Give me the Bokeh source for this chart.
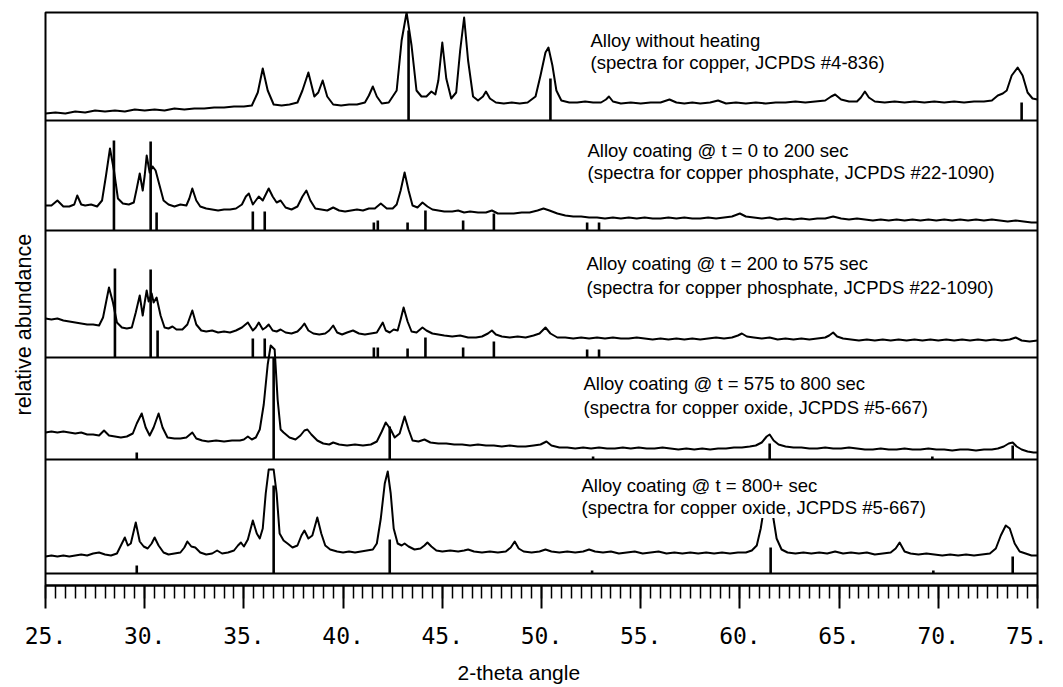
import numpy as np
from bokeh.plotting import figure
from bokeh.models import Range1d, FixedTicker, Label, Title
from bokeh.embed import file_html
from bokeh.resources import INLINE

# ---------------- data (2-theta in degrees, intensity in arbitrary units) ----------------
panel_titles = [
    "Alloy without heating",
    "Alloy coating @ t = 0 to 200 sec",
    "Alloy coating @ t = 200 to 575 sec",
    "Alloy coating @ t = 575 to 800 sec",
    "Alloy coating @ t = 800+ sec",
]
panel_refs = [
    "(spectra for copper, JCPDS #4-836)",
    "(spectra for copper phosphate, JCPDS #22-1090)",
    "(spectra for copper phosphate, JCPDS #22-1090)",
    "(spectra for copper oxide, JCPDS #5-667)",
    "(spectra for copper oxide, JCPDS #5-667)",
]

tick_values = [25, 30, 35, 40, 45, 50, 55, 60, 65, 70, 75]
tick_labels = ["25.", "30.", "35.", "40.", "45.", "50.", "55.", "60.", "65.", "70.", "75."]

x1 = [25.0, 25.5, 26.0, 26.5, 27.0, 27.5, 28.0, 28.5, 29.0, 29.5, 30.0, 30.5, 31.0, 31.5, 32.0, 32.5, 33.0, 33.5,
      34.0, 34.5, 35.0, 35.4, 35.7, 35.95, 36.2, 36.5, 36.9, 37.3, 37.7, 37.95, 38.25, 38.55, 38.75, 38.97, 39.2,
      39.5, 39.9, 40.3, 40.7, 41.1, 41.3, 41.5, 41.7, 41.95, 42.3, 42.7, 42.95, 43.2, 43.45, 43.7, 43.95, 44.2,
      44.45, 44.65, 44.8, 45.0, 45.2, 45.45, 45.7, 45.9, 46.1, 46.3, 46.55, 46.8, 47.05, 47.2, 47.4, 47.7, 48.1,
      48.5, 48.9, 49.3, 49.7, 49.95, 50.2, 50.35, 50.55, 50.75, 51.0, 51.4, 51.8, 52.2, 52.6, 53.0, 53.25, 53.4,
      53.6, 54.0, 54.5, 55.0, 55.5, 56.0, 56.45, 56.8, 57.2, 57.6, 58.0, 58.5, 58.9, 59.3, 59.8, 60.3, 60.8, 61.3,
      61.8, 62.3, 62.8, 63.3, 63.8, 64.3, 64.6, 64.8, 65.1, 65.5, 65.9, 66.1, 66.3, 66.5, 66.8, 67.3, 67.8, 68.3,
      68.8, 69.3, 69.8, 70.3, 70.8, 71.3, 71.8, 72.3, 72.7, 73.0, 73.25, 73.45, 73.7, 74.0, 74.25, 74.5, 74.75, 75.0]
y1 = [7, 8, 7, 9, 8, 10, 9, 10, 9, 11, 10, 11, 10, 12, 11, 12, 12, 13,
      13, 14, 14, 15, 28, 52, 30, 16, 15, 16, 18, 30, 48, 24, 28, 40, 24,
      16, 15, 16, 16, 18, 25, 34, 24, 17, 18, 30, 80, 125, 75, 30, 24, 24,
      29, 26, 40, 78, 42, 22, 28, 70, 103, 60, 24, 20, 24, 29, 22, 18, 17,
      18, 17, 18, 24, 45, 68, 73, 55, 30, 20, 18, 18, 19, 18, 18, 21, 24,
      19, 17, 18, 17, 18, 18, 21, 18, 17, 18, 17, 18, 20, 17, 18, 17, 18, 17,
      18, 18, 19, 18, 19, 20, 24, 26, 21, 19, 19, 23, 29, 23, 19, 18, 19, 18,
      19, 18, 19, 18, 19, 18, 19, 19, 20, 25, 27, 30, 45, 53, 45, 28, 22, 21]

x2 = [25.0, 25.3, 25.6, 25.9, 26.2, 26.45, 26.6, 26.8, 27.0, 27.3, 27.6, 27.85, 28.05, 28.25, 28.45, 28.65, 28.9,
      29.2, 29.45, 29.6, 29.75, 29.9, 30.0, 30.1, 30.25, 30.4, 30.55, 30.75, 30.95, 31.2, 31.5, 31.8, 32.1, 32.25,
      32.4, 32.6, 32.8, 33.1, 33.4, 33.7, 34.0, 34.3, 34.6, 34.9, 35.1, 35.25, 35.45, 35.6, 35.75, 35.95, 36.1,
      36.25, 36.45, 36.65, 36.85, 37.1, 37.4, 37.7, 37.95, 38.15, 38.35, 38.6, 38.9, 39.2, 39.5, 39.8, 40.1, 40.4,
      40.7, 41.0, 41.3, 41.6, 41.9, 42.2, 42.5, 42.7, 42.9, 43.1, 43.3, 43.5, 43.75, 44.0, 44.25, 44.5, 44.8, 45.1,
      45.5, 45.8, 46.1, 46.4, 46.8, 47.2, 47.5, 47.8, 48.2, 48.6, 49.0, 49.4, 49.8, 50.1, 50.4, 50.8, 51.2, 51.6,
      52.0, 52.4, 52.8, 53.2, 53.6, 54.0, 54.4, 54.8, 55.2, 55.6, 56.0, 56.4, 56.8, 57.2, 57.6, 58.0, 58.4, 58.8,
      59.2, 59.6, 60.0, 60.3, 60.7, 61.1, 61.5, 61.9, 62.3, 62.7, 63.1, 63.5, 63.9, 64.3, 64.7, 65.1, 65.5, 65.9,
      66.3, 66.7, 67.1, 67.5, 67.9, 68.3, 68.7, 69.1, 69.5, 69.9, 70.3, 70.7, 71.1, 71.5, 71.9, 72.3, 72.7, 73.1,
      73.5, 73.9, 74.3, 74.7, 75.0]
y2 = [25, 25, 30, 24, 24, 26, 35, 26, 25, 26, 24, 30, 55, 82, 60, 32, 27,
      26, 28, 42, 57, 40, 55, 75, 58, 64, 60, 45, 30, 26, 24, 26, 25, 32,
      42, 30, 24, 22, 21, 20, 21, 21, 22, 26, 34, 37, 26, 30, 34, 30, 36,
      42, 34, 28, 30, 23, 21, 24, 34, 40, 30, 22, 21, 20, 23, 20, 19, 20,
      21, 20, 22, 22, 27, 22, 22, 26, 40, 58, 40, 25, 23, 28, 24, 21, 20, 19,
      19, 20, 18, 19, 18, 18, 20, 17, 17, 17, 18, 18, 20, 22, 20, 17, 15, 14,
      14, 13, 13, 12, 13, 12, 13, 12, 13, 12, 12, 13, 12, 13, 12, 12, 13, 12,
      13, 14, 17, 14, 13, 12, 13, 11, 12, 11, 12, 11, 12, 12, 14, 12, 11, 12,
      11, 10, 11, 10, 11, 10, 11, 10, 11, 10, 11, 10, 11, 10, 11, 10, 11, 10,
      9, 10, 9, 8, 8]

x3 = [25.0, 25.3, 25.6, 25.9, 26.2, 26.5, 26.8, 27.1, 27.4, 27.7, 27.9, 28.05, 28.2, 28.4, 28.6, 28.85, 29.1, 29.35,
      29.55, 29.75, 29.9, 30.0, 30.1, 30.2, 30.35, 30.45, 30.6, 30.8, 31.0, 31.2, 31.4, 31.6, 31.9, 32.15, 32.4,
      32.6, 32.85, 33.1, 33.4, 33.7, 34.0, 34.3, 34.6, 34.9, 35.2, 35.45, 35.6, 35.75, 35.95, 36.1, 36.25, 36.45,
      36.65, 36.85, 37.1, 37.4, 37.7, 37.9, 38.05, 38.25, 38.5, 38.8, 39.1, 39.3, 39.5, 39.7, 39.95, 40.2, 40.5,
      40.8, 41.1, 41.4, 41.7, 41.85, 42.0, 42.15, 42.35, 42.55, 42.75, 42.9, 43.05, 43.25, 43.45, 43.7, 44.0, 44.2,
      44.5, 44.8, 45.1, 45.5, 45.9, 46.3, 46.7, 47.0, 47.3, 47.5, 47.7, 48.0, 48.4, 48.8, 49.2, 49.6, 49.9, 50.2,
      50.45, 50.8, 51.2, 51.6, 52.0, 52.4, 52.8, 53.2, 53.6, 54.0, 54.4, 54.8, 55.2, 55.6, 56.0, 56.4, 56.8, 57.2,
      57.6, 58.0, 58.4, 58.8, 59.2, 59.6, 59.9, 60.1, 60.35, 60.7, 61.1, 61.5, 61.9, 62.3, 62.7, 63.1, 63.5, 63.9,
      64.3, 64.5, 64.7, 64.9, 65.2, 65.6, 66.0, 66.4, 66.8, 67.2, 67.6, 68.0, 68.4, 68.8, 69.2, 69.6, 70.0, 70.4,
      70.8, 71.2, 71.6, 72.0, 72.4, 72.8, 73.2, 73.6, 73.9, 74.2, 74.6, 75.0]
y3 = [39, 38, 39, 37, 36, 35, 34, 33, 33, 32, 40, 55, 70, 55, 35, 30, 29, 30,
      45, 62, 42, 55, 67, 56, 64, 55, 60, 42, 30, 29, 31, 28, 28, 33, 47,
      33, 27, 26, 27, 25, 26, 25, 27, 30, 35, 27, 30, 35, 28, 30, 33, 27,
      26, 28, 25, 24, 26, 30, 34, 27, 24, 23, 24, 27, 32, 25, 23, 25, 27,
      24, 23, 24, 25, 30, 35, 27, 25, 28, 27, 38, 50, 36, 26, 25, 30, 27,
      24, 23, 22, 21, 22, 20, 20, 21, 24, 27, 23, 21, 20, 21, 20, 22, 24, 30,
      24, 20, 20, 19, 20, 19, 20, 19, 20, 19, 19, 20, 19, 18, 19, 18, 19, 18,
      19, 18, 19, 20, 19, 20, 22, 24, 21, 20, 19, 20, 18, 19, 18, 19, 18, 19,
      20, 22, 25, 21, 19, 18, 17, 18, 17, 18, 17, 18, 17, 18, 17, 18, 17, 18,
      17, 18, 17, 18, 17, 18, 17, 18, 20, 17, 16, 17]

x4 = [25.0, 25.3, 25.6, 25.9, 26.2, 26.5, 26.8, 27.1, 27.4, 27.7, 27.95, 28.2, 28.5, 28.8, 29.1, 29.4, 29.6, 29.85,
      30.05, 30.25, 30.45, 30.7, 30.9, 31.15, 31.5, 31.8, 32.1, 32.4, 32.6, 32.9, 33.2, 33.6, 34.0, 34.4, 34.8,
      35.0, 35.2, 35.4, 35.6, 35.8, 36.0, 36.2, 36.35, 36.55, 36.7, 36.85, 37.0, 37.3, 37.6, 37.85, 38.05, 38.2,
      38.4, 38.7, 39.0, 39.3, 39.5, 39.8, 40.2, 40.6, 41.0, 41.4, 41.7, 41.95, 42.15, 42.4, 42.6, 42.85, 43.1,
      43.3, 43.5, 43.8, 44.1, 44.4, 44.8, 45.2, 45.6, 46.0, 46.4, 46.8, 47.2, 47.6, 48.0, 48.4, 48.8, 49.2, 49.6,
      49.95, 50.25, 50.5, 50.9, 51.3, 51.7, 52.1, 52.5, 52.9, 53.3, 53.7, 54.1, 54.5, 54.9, 55.3, 55.7, 56.1,
      56.5, 56.9, 57.3, 57.7, 58.1, 58.5, 58.9, 59.3, 59.7, 60.1, 60.5, 60.8, 61.1, 61.35, 61.5, 61.7, 61.95,
      62.3, 62.7, 63.1, 63.5, 63.9, 64.3, 64.7, 65.1, 65.5, 65.9, 66.3, 66.7, 67.1, 67.5, 67.9, 68.3, 68.7,
      69.1, 69.5, 69.9, 70.3, 70.7, 71.1, 71.5, 71.9, 72.3, 72.7, 73.0, 73.3, 73.55, 73.75, 73.95, 74.2, 74.5,
      74.8, 75.0]
y4 = [27, 28, 27, 28, 27, 26, 27, 25, 25, 24, 29, 24, 23, 22, 23, 26, 36, 46,
      32, 24, 32, 46, 32, 22, 21, 21, 22, 27, 21, 19, 18, 19, 18, 19, 19,
      20, 23, 20, 22, 30, 55, 95, 120, 110, 60, 30, 27, 22, 20, 24, 29, 30,
      25, 19, 16, 15, 17, 15, 14, 15, 14, 15, 18, 28, 37, 30, 22, 26, 43,
      30, 19, 18, 20, 17, 16, 16, 15, 15, 14, 15, 14, 14, 13, 14, 13, 13, 14,
      15, 18, 14, 12, 12, 11, 12, 11, 12, 11, 11, 12, 11, 12, 11, 11, 12,
      11, 10, 11, 10, 11, 10, 11, 11, 12, 12, 13, 14, 17, 23, 25, 19, 15,
      13, 12, 12, 11, 11, 12, 11, 11, 12, 11, 10, 10, 11, 10, 10, 11, 10,
      10, 11, 10, 10, 9, 10, 10, 9, 10, 10, 11, 13, 16, 17, 13, 10, 8,
      7, 7]

x5 = [25.0, 25.3, 25.6, 25.9, 26.2, 26.5, 26.8, 27.1, 27.4, 27.7, 28.0, 28.3, 28.6, 28.8, 29.0, 29.15, 29.3, 29.55,
      29.75, 29.95, 30.15, 30.35, 30.5, 30.7, 30.95, 31.2, 31.5, 31.8, 32.0, 32.15, 32.35, 32.55, 32.8, 33.1, 33.4,
      33.65, 33.9, 34.2, 34.5, 34.7, 34.85, 35.0, 35.2, 35.45, 35.65, 35.8, 35.95, 36.1, 36.25, 36.5, 36.65, 36.8,
      37.0, 37.2, 37.45, 37.7, 37.9, 38.05, 38.25, 38.45, 38.7, 38.9, 39.1, 39.35, 39.7, 40.0, 40.3, 40.6, 40.9,
      41.2, 41.5, 41.7, 41.9, 42.1, 42.25, 42.4, 42.55, 42.75, 42.95, 43.1, 43.3, 43.6, 43.9, 44.1, 44.25, 44.45,
      44.7, 45.0, 45.4, 45.8, 46.1, 46.3, 46.6, 47.0, 47.4, 47.8, 48.2, 48.45, 48.65, 48.85, 49.1, 49.5, 49.9,
      50.2, 50.5, 50.9, 51.3, 51.7, 52.1, 52.4, 52.7, 53.1, 53.5, 53.9, 54.3, 54.7, 55.1, 55.5, 55.9, 56.3, 56.7,
      57.1, 57.5, 57.9, 58.3, 58.7, 59.1, 59.5, 59.9, 60.3, 60.6, 60.85, 61.05, 61.25, 61.45, 61.65, 61.85, 62.1,
      62.4, 62.8, 63.2, 63.6, 64.0, 64.4, 64.8, 65.2, 65.6, 66.0, 66.4, 66.8, 67.2, 67.6, 67.85, 68.05, 68.3,
      68.6, 69.0, 69.4, 69.8, 70.2, 70.6, 71.0, 71.4, 71.8, 72.2, 72.6, 72.9, 73.15, 73.4, 73.6, 73.85, 74.1,
      74.4, 74.7, 75.0]
y5 = [17, 18, 17, 18, 17, 18, 19, 18, 20, 21, 19, 18, 20, 28, 36, 28, 30, 51,
      32, 27, 25, 30, 36, 28, 21, 19, 20, 21, 26, 32, 27, 26, 21, 19, 20,
      23, 20, 21, 23, 28, 31, 27, 34, 53, 40, 35, 45, 80, 130, 130, 80, 40,
      33, 30, 26, 28, 38, 43, 35, 38, 56, 40, 28, 24, 22, 21, 22, 21, 22,
      23, 24, 30, 55, 90, 102, 80, 45, 30, 28, 30, 27, 24, 25, 28, 31, 27,
      23, 22, 23, 22, 23, 24, 22, 21, 22, 21, 22, 26, 32, 25, 22, 21, 22,
      24, 22, 21, 22, 21, 22, 24, 22, 21, 22, 20, 21, 22, 20, 21, 22, 20, 21,
      20, 21, 20, 21, 20, 21, 20, 21, 21, 23, 28, 45, 70, 72, 60, 35, 24,
      21, 20, 21, 20, 21, 20, 22, 20, 21, 20, 21, 19, 20, 21, 25, 31, 22,
      20, 19, 20, 19, 18, 19, 18, 19, 18, 19, 20, 25, 38, 48, 45, 30, 22,
      20, 18, 18]

spectra_x = [x1, x2, x3, x4, x5]
spectra_y = [y1, y2, y3, y4, y5]

# JCPDS reference lines (position, relative height)
ref_x1 = [43.3, 50.45, 74.2]
ref_h1 = [90, 42, 18]
ref_x2 = [28.45, 30.3, 30.6, 35.45, 36.05, 41.55, 41.75, 43.25, 44.15, 46.05, 47.6, 52.3, 52.9]
ref_h2 = [90, 89, 18, 19, 19, 8, 10, 8, 20, 10, 17, 8, 8]
ref_x3 = [28.5, 30.3, 30.65, 35.45, 36.05, 41.55, 41.75, 43.25, 44.15, 46.05, 47.6, 52.3, 52.9]
ref_h3 = [89, 88, 27, 19, 19, 10, 10, 9, 20, 10, 16, 8, 8]
ref_x4 = [29.6, 36.5, 42.35, 52.6, 61.5, 69.7, 73.75]
ref_h4 = [7, 102, 33, 3, 16, 3, 14]
ref_x5 = [29.6, 36.5, 42.35, 52.55, 61.55, 69.75, 73.75]
ref_h5 = [8, 88, 34, 3, 26, 3, 17]

ref_x = [ref_x1, ref_x2, ref_x3, ref_x4, ref_x5]
ref_h = [ref_h1, ref_h2, ref_h3, ref_h4, ref_h5]

# ---------------- layout (pixel geometry of the stacked panels) ----------------
FRAME_TOP, FRAME_BOTTOM = 12, 585           # page pixels
panel_bottom_px = [120, 230, 357, 459, 573]  # page pixel of each panel's baseline
panel_clip = [108, 110, 101, 114, 104]       # max drawable height inside each panel
title_px = [(590, 40, 62), (587, 150, 172), (586, 263, 287), (583, 383, 407), (581, 485, 507)]
X0_PX, X1_PX = 45, 1037

def px_to_x(px):
    return 25 + (px - X0_PX) * 50.0 / (X1_PX - X0_PX)

def py_to_y(py):
    return FRAME_BOTTOM - py

p = figure(frame_width=992, frame_height=573,
           x_range=Range1d(25, 75), y_range=Range1d(0, FRAME_BOTTOM - FRAME_TOP),
           output_backend="svg", toolbar_location=None,
           min_border_left=45, min_border_right=10, min_border_top=12, min_border_bottom=0,
           y_axis_location=None, background_fill_color="white", border_fill_color="white")
p.grid.visible = False
p.outline_line_color = "black"
p.outline_line_width = 2

ax = p.xaxis[0]
ax.ticker = FixedTicker(ticks=tick_values, minor_ticks=list(np.arange(25, 75.01, 0.5)))
ax.major_label_overrides = {v: s for v, s in zip(tick_values, tick_labels)}
ax.major_tick_in = 0
ax.major_tick_out = 23
ax.minor_tick_in = 0
ax.minor_tick_out = 13
ax.major_tick_line_width = 2
ax.minor_tick_line_width = 1.5
ax.major_tick_line_color = "black"
ax.minor_tick_line_color = "black"
ax.axis_line_width = 2
ax.axis_line_color = "black"
ax.major_label_text_font = "DejaVu Sans Mono"
ax.major_label_text_font_size = "23px"
ax.major_label_text_color = "black"
ax.major_label_standoff = 18

p.add_layout(Title(text="2-theta angle", align="left", offset=412, standoff=24,
                   text_font="Liberation Sans", text_font_size="21px", text_font_style="normal",
                   text_color="black"), "below")
p.add_layout(Title(text="relative abundance", align="left", offset=170, standoff=16,
                   vertical_align="top",
                   text_font="Liberation Sans", text_font_size="21.5px", text_font_style="normal",
                   text_color="black"), "left")

for i in range(5):
    base = py_to_y(panel_bottom_px[i])
    # panel baseline / separator
    p.segment(x0=[25], y0=[base], x1=[75], y1=[base], line_color="black", line_width=2)
    # spectrum
    ys = base + np.minimum(np.array(spectra_y[i], dtype=float), panel_clip[i])
    p.line(spectra_x[i], ys, line_color="black", line_width=2, line_join="round")
    # reference sticks
    rx = ref_x[i]
    p.segment(x0=rx, y0=[base] * len(rx), x1=rx, y1=[base + h for h in ref_h[i]],
              line_color="black", line_width=2.6)
    # annotations
    tx, ty1, ty2 = title_px[i]
    for txt, ty in ((panel_titles[i], ty1), (panel_refs[i], ty2)):
        p.add_layout(Label(x=px_to_x(tx), y=py_to_y(ty), text=txt,
                           text_font="Liberation Sans", text_font_size="18.5px",
                           text_color="black", text_align="left", text_baseline="middle",
                           background_fill_color="white"))

open("out.html", "w").write(file_html(p, INLINE))
